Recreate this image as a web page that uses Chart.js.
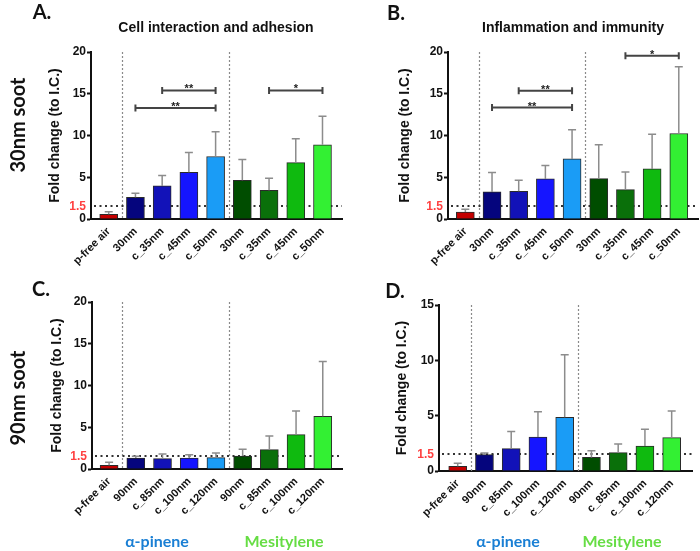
<!DOCTYPE html>
<html>
<head>
<meta charset="utf-8">
<script src="https://cdn.jsdelivr.net/npm/chart.js@4.4.1/dist/chart.umd.min.js"></script>
<style>
  body { margin: 0; background: #fff; }
  #fig { position: relative; width: 700px; height: 551px; overflow: hidden; font-family: "Liberation Sans", Arial, sans-serif; color: #111; }
  canvas { position: absolute; }
  .lbl { position: absolute; white-space: nowrap; line-height: 1; transform: translate(-50%, -50%); }
  .letter { font-family: Lato, "Open Sans", sans-serif; font-weight: 700; font-size: 20px; }
  .sub { font-weight: 700; font-size: 14px; }
  .row { font-family: Lato, "Open Sans", sans-serif; font-weight: 700; font-size: 20px; transform: translate(-50%, -50%) rotate(-90deg); }
  .leg { font-family: Lato, "Open Sans", sans-serif; font-weight: 700; font-size: 16px; }
</style>
</head>
<body>
<div id="fig">
  <canvas id="chartA" width="350" height="275" style="left:0;top:0"></canvas>
  <canvas id="chartB" width="350" height="275" style="left:350px;top:0"></canvas>
  <canvas id="chartC" width="350" height="276" style="left:0;top:275px"></canvas>
  <canvas id="chartD" width="350" height="276" style="left:350px;top:275px"></canvas>

  <div class="lbl letter" style="left:42px;top:11px">A.</div>
  <div class="lbl letter" style="left:396px;top:12px">B.</div>
  <div class="lbl letter" style="left:41px;top:288px">C.</div>
  <div class="lbl letter" style="left:395px;top:290px">D.</div>

  <div class="lbl sub" style="left:216px;top:27px">Cell interaction and adhesion</div>
  <div class="lbl sub" style="left:573px;top:27px">Inflammation and immunity</div>

  <div class="lbl row" style="left:17px;top:125px">30nm soot</div>
  <div class="lbl row" style="left:17px;top:398px">90nm soot</div>

  <div class="lbl leg" style="left:157px;top:541px;color:#1a7fd4">α-pinene</div>
  <div class="lbl leg" style="left:284px;top:541px;color:#66dd44">Mesitylene</div>
  <div class="lbl leg" style="left:508px;top:541px;color:#1a7fd4">α-pinene</div>
  <div class="lbl leg" style="left:622px;top:541px;color:#66dd44">Mesitylene</div>
</div>

<script>
// categories
const xLabels30 = ['p-free air', '30nm', 'c_35nm', 'c_45nm', 'c_50nm', '30nm', 'c_35nm', 'c_45nm', 'c_50nm'];
const xLabels90 = ['p-free air', '90nm', 'c_85nm', 'c_100nm', 'c_120nm', '90nm', 'c_85nm', 'c_100nm', 'c_120nm'];
const barColors = ['#c40000', '#05057d', '#1212b8', '#1515ff', '#1a9cf6', '#004d00', '#0a700a', '#0fba0f', '#33f033'];

// mean fold change and top of the error bar (mean + SD)
const meansA = [0.56, 2.6, 3.96, 5.6, 7.48, 4.64, 3.44, 6.76, 8.88];
const errA   = [0.88, 3.08, 5.2, 7.96, 10.44, 7.12, 4.88, 9.6, 12.32];
const meansB = [0.84, 3.24, 3.32, 4.8, 7.2, 4.84, 3.52, 6.0, 10.24];
const errB   = [1.16, 5.56, 4.64, 6.4, 10.68, 8.88, 5.64, 10.16, 18.24];
const meansC = [0.44, 1.32, 1.24, 1.32, 1.36, 1.56, 2.32, 4.12, 6.32];
const errC   = [0.8, 1.52, 1.8, 1.72, 1.92, 2.36, 3.96, 6.96, 12.86];
const meansD = [0.42, 1.48, 2.02, 3.07, 4.85, 1.23, 1.66, 2.26, 3.01];
const errD   = [0.69, 1.63, 3.58, 5.36, 10.51, 1.84, 2.44, 3.77, 5.42];

// tick labels
const yTicks20 = [0, 1.5, 5, 10, 15, 20];
const yTicks15 = [0, 1.5, 5, 10, 15];

// group dividers and the 1.5 threshold
const dividers = [1.5, 5.5];
const threshold = 1.5;

// significance brackets (category positions 1..9)
const sigA = [
  { from: 2, to: 5, y: 13.3, text: '**' },
  { from: 3, to: 5, y: 15.4, text: '**' },
  { from: 7, to: 9, y: 15.4, text: '*' }
];
const sigB = [
  { from: 2, to: 5, y: 13.35, text: '**' },
  { from: 3, to: 5, y: 15.35, text: '**' },
  { from: 7, to: 9, y: 19.55, text: '*' }
];

const panelMarks = {
  id: 'panelMarks',
  beforeDatasetsDraw(chart, args, opts) {
    const { ctx, chartArea: a, scales: { x, y } } = chart;
    ctx.save();
    ctx.strokeStyle = '#8a8a8a';
    ctx.lineWidth = 1.2;
    ctx.setLineDash([2, 2]);
    opts.dividers.forEach(v => {
      const px = Math.round(x.getPixelForValue(v)) + 0.5;
      ctx.beginPath();
      ctx.moveTo(px, a.top);
      ctx.lineTo(px, a.bottom);
      ctx.stroke();
    });
    ctx.strokeStyle = '#333';
    ctx.lineWidth = 2;
    ctx.setLineDash([2, 3.5]);
    const ty = Math.round(y.getPixelForValue(opts.threshold));
    ctx.beginPath();
    ctx.moveTo(a.left + 3, ty);
    ctx.lineTo(a.right, ty);
    ctx.stroke();
    ctx.restore();
  },
  afterDatasetsDraw(chart, args, opts) {
    const { ctx, scales: { x, y } } = chart;
    const meta = chart.getDatasetMeta(0);
    ctx.save();
    ctx.strokeStyle = '#8c8c8c';
    ctx.lineWidth = 1.5;
    opts.errors.forEach((e, i) => {
      const bar = meta.data[i];
      const ey = y.getPixelForValue(e);
      ctx.beginPath();
      ctx.moveTo(bar.x, bar.y);
      ctx.lineTo(bar.x, ey);
      ctx.moveTo(bar.x - 4, ey);
      ctx.lineTo(bar.x + 4, ey);
      ctx.stroke();
    });
    ctx.strokeStyle = '#444';
    ctx.lineWidth = 2;
    ctx.fillStyle = '#222';
    ctx.font = 'bold 11px "Liberation Sans", Arial, sans-serif';
    ctx.textAlign = 'center';
    ctx.textBaseline = 'alphabetic';
    (opts.brackets || []).forEach(b => {
      const x1 = x.getPixelForValue(b.from);
      const x2 = x.getPixelForValue(b.to);
      const by = y.getPixelForValue(b.y);
      ctx.beginPath();
      ctx.moveTo(x1, by); ctx.lineTo(x2, by);
      ctx.moveTo(x1, by - 3.5); ctx.lineTo(x1, by + 3.5);
      ctx.moveTo(x2, by - 3.5); ctx.lineTo(x2, by + 3.5);
      ctx.stroke();
      ctx.fillText(b.text, (x1 + x2) / 2, by + 2);
    });
    ctx.restore();
  }
};

function makePanel(id, p) {
  return new Chart(document.getElementById(id), {
    type: 'bar',
    data: {
      datasets: [{
        data: p.means.map((v, i) => ({ x: i + 1, y: v })),
        backgroundColor: barColors,
        borderColor: '#2a2a2a',
        borderWidth: 1,
        barThickness: 18
      }]
    },
    options: {
      responsive: false,
      animation: false,
      layout: { padding: p.pad },
      plugins: {
        legend: { display: false },
        tooltip: { enabled: false },
        panelMarks: { errors: p.errors, dividers: dividers, threshold: threshold, brackets: p.brackets }
      },
      scales: {
        x: {
          type: 'linear',
          offset: false,
          min: p.xMin,
          max: p.xMax,
          afterBuildTicks: s => { s.ticks = p.labels.map((_, i) => ({ value: i + 1 })); },
          afterFit: s => { s.height = 50; },
          grid: { display: false, drawTicks: false, offset: false },
          border: { display: true, color: '#111', width: 2 },
          ticks: {
            autoSkip: false,
            minRotation: 45,
            maxRotation: 45,
            padding: 6,
            color: '#111',
            font: { family: '"Liberation Sans", Arial, sans-serif', size: 11, weight: 'bold' },
            callback: v => p.labels[v - 1]
          }
        },
        y: {
          min: 0,
          max: p.yMax,
          afterBuildTicks: s => { s.ticks = p.yTicks.map(v => ({ value: v })); },
          afterFit: s => { s.width = p.yW; },
          grid: {
            drawOnChartArea: false,
            tickLength: 4,
            tickWidth: 2,
            color: c => (c.tick && c.tick.value === threshold ? 'rgba(0,0,0,0)' : '#111')
          },
          border: { display: true, color: '#111', width: 2 },
          ticks: {
            padding: 1,
            color: c => (c.tick.value === threshold ? '#ff4040' : '#111'),
            font: { family: '"Liberation Sans", Arial, sans-serif', size: 12, weight: 'bold' }
          },
          title: {
            display: true,
            text: 'Fold change (to I.C.)',
            color: '#111',
            padding: { top: 2, bottom: 2 },
            font: { family: '"Liberation Sans", Arial, sans-serif', size: 14, weight: 'bold' }
          }
        }
      }
    },
    plugins: [panelMarks]
  });
}

makePanel('chartA', {
  labels: xLabels30, means: meansA, errors: errA, brackets: sigA,
  yMax: 20, yTicks: yTicks20, yW: 46, xMin: 0.337, xMax: 9.73,
  pad: { left: 45, top: 52, right: 8, bottom: 6 }
});
makePanel('chartB', {
  labels: xLabels30, means: meansB, errors: errB, brackets: sigB,
  yMax: 20, yTicks: yTicks20, yW: 53, xMin: 0.35, xMax: 9.72,
  pad: { left: 45, top: 52, right: 2, bottom: 6 }
});
makePanel('chartC', {
  labels: xLabels90, means: meansC, errors: errC, brackets: [],
  yMax: 20, yTicks: yTicks20, yW: 45, xMin: 0.36, xMax: 9.72,
  pad: { left: 47, top: 27, right: 8, bottom: 32 }
});
makePanel('chartD', {
  labels: xLabels90, means: meansD, errors: errD, brackets: [],
  yMax: 15, yTicks: yTicks15, yW: 47, xMin: 0.3, xMax: 9.76,
  pad: { left: 42, top: 30, right: 8, bottom: 30 }
});
</script>
</body>
</html>
